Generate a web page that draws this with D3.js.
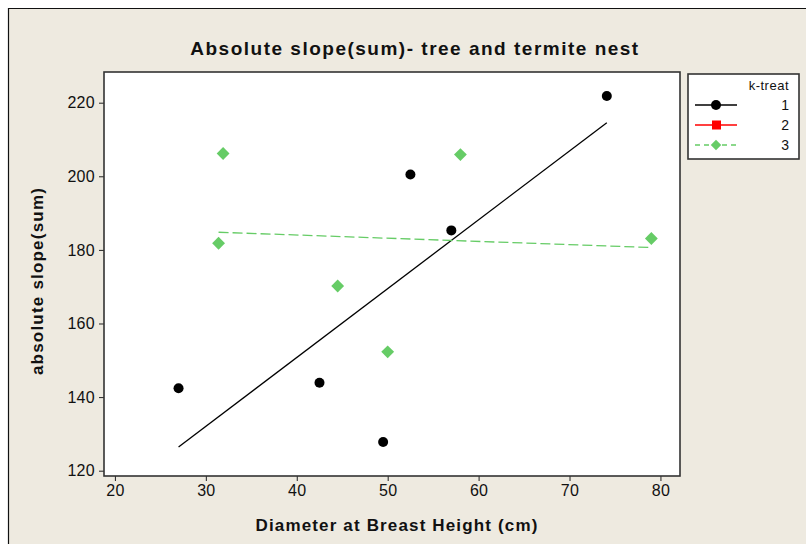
<!DOCTYPE html>
<html>
<head>
<meta charset="utf-8">
<script src="https://cdn.jsdelivr.net/npm/d3@7"></script>
<style>
  html, body { margin: 0; padding: 0; background: #ffffff; }
  svg { display: block; }
  text { font-family: "Liberation Sans", Arial, sans-serif; }
</style>
</head>
<body>
<svg id="chart" width="806" height="544"></svg>
<script>
// ---- data ----
const groups = ["1", "2", "3"];
const dbh1 = [27.0, 42.5, 49.5, 52.5, 57.0, 74.1];
const slope1 = [142.4, 143.9, 127.8, 200.5, 185.3, 221.8];
const dbh3 = [31.9, 31.4, 44.5, 50.0, 58.0, 79.0];
const slope3 = [206.2, 181.8, 170.2, 152.3, 205.9, 183.1];
const xTicks = [20, 30, 40, 50, 60, 70, 80];
const yTicks = [120, 140, 160, 180, 200, 220];
const titleText = "Absolute slope(sum)- tree and termite nest";
const xLabel = "Diameter at Breast Height (cm)";
const yLabel = "absolute slope(sum)";
const legendTitle = "k-treat";

const svg = d3.select("#chart");
const bg = "#EEEAE0";
const green = "#66CC66";

// background & frame
svg.append("rect").attr("x", 8).attr("y", 8).attr("width", 806).attr("height", 544)
  .attr("fill", bg);
svg.append("path").attr("d", "M8.5,544 V8.5 H806").attr("fill", "none")
  .attr("stroke", "#111").attr("stroke-width", 1.2);

const L = 104, R = 680, T = 72, B = 476;
const x = d3.scaleLinear().domain([18.8, 82.15]).range([L, R]);
const y = d3.scaleLinear().domain([118.56, 228.34]).range([B, T]);

// plot area
svg.append("rect").attr("x", L).attr("y", T).attr("width", R - L).attr("height", B - T)
  .attr("fill", "#fff");

// axes
const xAxis = svg.append("g").attr("transform", `translate(0,${B})`)
  .call(d3.axisBottom(x).tickValues(xTicks).tickSize(5).tickSizeOuter(0).tickPadding(4));
const yAxis = svg.append("g").attr("transform", `translate(${L},0)`)
  .call(d3.axisLeft(y).tickValues(yTicks).tickSize(5).tickSizeOuter(0).tickPadding(4));
[xAxis, yAxis].forEach(g => {
  g.select(".domain").remove();
  g.selectAll("line").attr("stroke", "#222").attr("stroke-width", 1);
  g.selectAll("text").attr("fill", "#111").style("font-size", "16px")
    .style("font-family", "Liberation Sans, Arial, sans-serif")
    .style("letter-spacing", "0.3px");
});

// regression helper
function fit(xs, ys) {
  const mx = d3.mean(xs), my = d3.mean(ys);
  let sxy = 0, sxx = 0;
  xs.forEach((v, i) => { sxy += (v - mx) * (ys[i] - my); sxx += (v - mx) * (v - mx); });
  const b = sxy / sxx, a = my - b * mx;
  const [x0, x1] = d3.extent(xs);
  return [[x0, a + b * x0], [x1, a + b * x1]];
}
const line = d3.line().x(d => x(d[0])).y(d => y(d[1]));

const plot = svg.append("g");
plot.append("path").attr("d", line(fit(dbh1, slope1))).attr("fill", "none")
  .attr("stroke", "#000").attr("stroke-width", 1.3);
plot.append("path").attr("d", line(fit(dbh3, slope3))).attr("fill", "none")
  .attr("stroke", green).attr("stroke-width", 1.3).attr("stroke-dasharray", "10,4");

// points
plot.selectAll(".p1").data(dbh1.map((v, i) => [v, slope1[i]])).enter().append("circle")
  .attr("cx", d => x(d[0])).attr("cy", d => y(d[1])).attr("r", 5).attr("fill", "#000");
const diamond = d3.symbol().type(d3.symbolDiamond2).size(105);
plot.selectAll(".p3").data(dbh3.map((v, i) => [v, slope3[i]])).enter().append("path")
  .attr("d", diamond).attr("transform", d => `translate(${x(d[0])},${y(d[1])})`)
  .attr("fill", green);

// plot border
svg.append("rect").attr("x", L).attr("y", T).attr("width", R - L).attr("height", B - T)
  .attr("fill", "none").attr("stroke", "#333").attr("stroke-width", 1.6);

// titles
svg.append("text").attr("x", 415).attr("y", 55).attr("text-anchor", "middle")
  .style("font-size", "19px").style("font-weight", "bold").style("letter-spacing", "1.5px")
  .attr("fill", "#111").text(titleText);
svg.append("text").attr("x", 397).attr("y", 531).attr("text-anchor", "middle")
  .style("font-size", "17px").style("font-weight", "bold").style("letter-spacing", "1.15px")
  .attr("fill", "#111").text(xLabel);
svg.append("text").attr("transform", "translate(43,281) rotate(-90)").attr("text-anchor", "middle")
  .style("font-size", "17px").style("font-weight", "bold").style("letter-spacing", "1.2px")
  .attr("fill", "#111").text(yLabel);

// legend
const lg = svg.append("g");
lg.append("rect").attr("x", 688).attr("y", 74).attr("width", 111).attr("height", 85)
  .attr("fill", "#fff").attr("stroke", "#333").attr("stroke-width", 1.6);
lg.append("text").attr("x", 789).attr("y", 90).attr("text-anchor", "end")
  .style("font-size", "13px").style("letter-spacing", "0.5px").attr("fill", "#111").text(legendTitle);
const legY = [105, 125, 145];
const legStyles = [
  { color: "#000", dash: null, sym: "circle" },
  { color: "#FF0000", dash: null, sym: "square" },
  { color: green, dash: "5,4", sym: "diamond" }
];
groups.forEach((g, i) => {
  const st = legStyles[i], yy = legY[i];
  lg.append("line").attr("x1", 695).attr("x2", 737).attr("y1", yy).attr("y2", yy)
    .attr("stroke", st.color).attr("stroke-width", 1.3)
    .attr("stroke-dasharray", st.dash);
  if (st.sym === "circle") {
    lg.append("circle").attr("cx", 716).attr("cy", yy).attr("r", 5).attr("fill", st.color);
  } else if (st.sym === "square") {
    lg.append("rect").attr("x", 712).attr("y", yy - 4.5).attr("width", 9).attr("height", 9).attr("fill", st.color);
  } else {
    lg.append("path").attr("d", d3.symbol().type(d3.symbolDiamond2).size(70))
      .attr("transform", `translate(716,${yy})`).attr("fill", st.color);
  }
  lg.append("text").attr("x", 789).attr("y", yy + 5).attr("text-anchor", "end")
    .style("font-size", "14px").attr("fill", "#111").text(g);
});
</script>
</body>
</html>
